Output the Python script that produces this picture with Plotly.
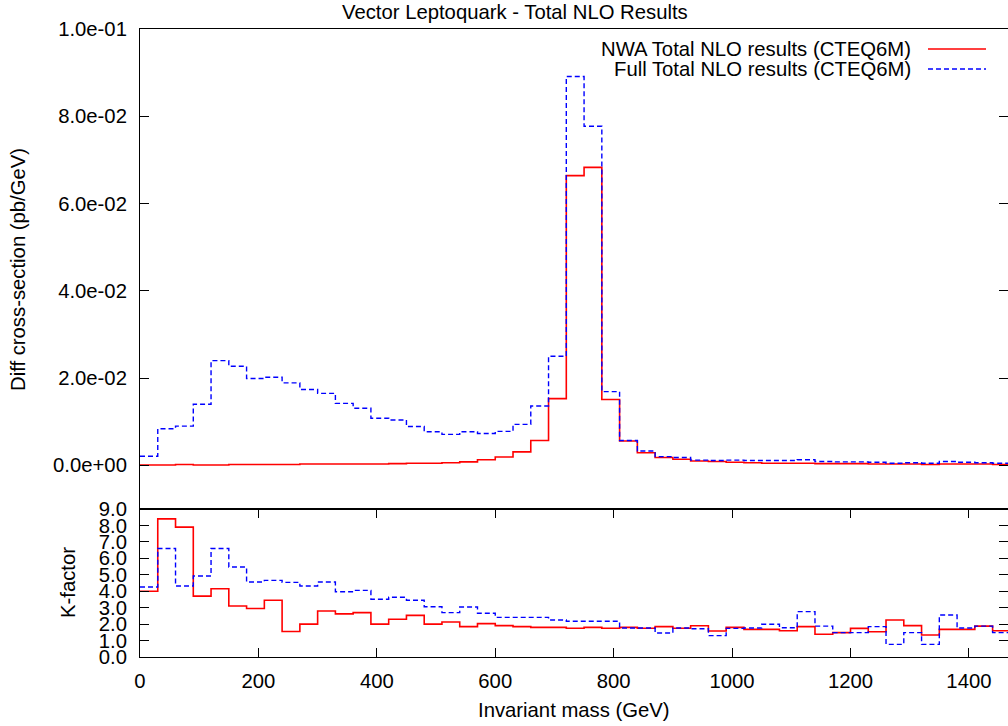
import plotly.graph_objects as go

# ---------------- data ----------------
bin_edges = [0, 30, 60, 90, 120, 150, 180, 210, 240, 270, 300, 330, 360, 390, 420,
             450, 480, 510, 540, 570, 600, 630, 660, 690, 720, 750, 780, 810, 840,
             870, 900, 930, 960, 990, 1020, 1050, 1080, 1110, 1140, 1170, 1200,
             1230, 1260, 1290, 1320, 1350, 1380, 1410, 1440, 1470]

nwa_xsec = [0.0001, 0.0001, 0.0002, 0.0001, 0.0001, 0.0002, 0.0002, 0.0002, 0.0002,
            0.0003, 0.0003, 0.0003, 0.0003, 0.0003, 0.0004, 0.0005, 0.0005, 0.0006,
            0.0008, 0.0013, 0.0019, 0.0031, 0.0057, 0.0153, 0.0664, 0.0683, 0.0151,
            0.0056, 0.0029, 0.0018, 0.0014, 0.0010, 0.0009, 0.0007, 0.0006, 0.0005,
            0.0005, 0.0005, 0.0004, 0.0004, 0.0004, 0.0003, 0.0003, 0.0003, 0.0002,
            0.0003, 0.0003, 0.0003, 0.0002]

full_xsec = [0.0021, 0.0084, 0.0090, 0.0140, 0.0240, 0.0227, 0.0199, 0.0202, 0.0189,
             0.0174, 0.0165, 0.0142, 0.0131, 0.0108, 0.0104, 0.0089, 0.0077, 0.0071,
             0.0077, 0.0073, 0.0078, 0.0094, 0.0136, 0.0250, 0.0891, 0.0777, 0.0169,
             0.0057, 0.0033, 0.0020, 0.0018, 0.0012, 0.0011, 0.0012, 0.0011, 0.0011,
             0.0011, 0.0013, 0.0009, 0.0008, 0.0008, 0.0007, 0.0005, 0.0006, 0.0005,
             0.0009, 0.0007, 0.0006, 0.0005]

nwa_kfac = [4.0, 8.4, 7.9, 3.7, 4.15, 3.1, 2.95, 3.45, 1.55, 2.0, 2.8, 2.62, 2.7,
            2.0, 2.3, 2.53, 2.0, 2.13, 1.85, 2.03, 1.91, 1.85, 1.8, 1.8, 1.75, 1.8,
            1.75, 1.8, 1.75, 1.85, 1.75, 1.9, 1.58, 1.8, 1.68, 1.68, 1.6, 1.85, 1.38,
            1.48, 1.74, 1.54, 2.25, 1.91, 1.34, 1.68, 1.68, 1.88, 1.6]

full_kfac = [4.26, 6.6, 4.32, 4.93, 6.6, 5.47, 4.56, 4.66, 4.54, 4.32, 4.56, 3.97,
             4.05, 3.51, 3.63, 3.45, 3.06, 2.7, 3.04, 2.66, 2.41, 2.41, 2.41, 2.25,
             2.17, 2.17, 2.17, 1.76, 1.76, 1.46, 1.76, 1.72, 1.3, 1.74, 1.76, 1.99,
             1.78, 2.76, 1.88, 1.48, 1.48, 1.85, 0.77, 1.48, 0.77, 2.55, 1.76, 1.88,
             1.48]

xsec_tickvals = [0.0, 0.02, 0.04, 0.06, 0.08, 0.10]
xsec_ticktext = ["0.0e+00", "2.0e-02", "4.0e-02", "6.0e-02", "8.0e-02", "1.0e-01"]
kfac_tickvals = [0, 1, 2, 3, 4, 5, 6, 7, 8, 9]
kfac_ticktext = ["0.0", "1.0", "2.0", "3.0", "4.0", "5.0", "6.0", "7.0", "8.0", "9.0"]
mass_tickvals = [0, 200, 400, 600, 800, 1000, 1200, 1400]

series_names = ["NWA Total NLO results (CTEQ6M)", "Full Total NLO results (CTEQ6M)"]

# ---------------- figure ----------------
FONT = "Liberation Sans, Arial, Helvetica, sans-serif"
FS = 20.3
RED = "#ff0000"
BLUE = "#0000ff"
BLUE_DASH = "5px,3px"


def steps(vals):
    return list(vals) + [vals[-1]]


fig = go.Figure()
fig.add_trace(go.Scatter(x=bin_edges, y=steps(nwa_xsec), mode="lines",
                         line=dict(color=RED, width=1.6, shape="hv"),
                         xaxis="x2", yaxis="y2", name=series_names[0]))
fig.add_trace(go.Scatter(x=bin_edges, y=steps(full_xsec), mode="lines",
                         line=dict(color=BLUE, width=1.4, shape="hv", dash=BLUE_DASH),
                         xaxis="x2", yaxis="y2", name=series_names[1]))
fig.add_trace(go.Scatter(x=bin_edges, y=steps(nwa_kfac), mode="lines",
                         line=dict(color=RED, width=1.6, shape="hv"),
                         xaxis="x", yaxis="y", name=series_names[0]))
fig.add_trace(go.Scatter(x=bin_edges, y=steps(full_kfac), mode="lines",
                         line=dict(color=BLUE, width=1.4, shape="hv", dash=BLUE_DASH),
                         xaxis="x", yaxis="y", name=series_names[1]))

W, H = 1008, 726
L, R, T, B = 140, 0, 29, 69
plot_h = H - T - B          # 628
split = 148 / plot_h        # bottom panel height fraction

axis_common = dict(showline=True, linecolor="black", linewidth=1, showgrid=False,
                   zeroline=False, tickcolor="black", ticklen=9, tickwidth=1,
                   tickfont=dict(family=FONT, size=FS, color="black"))

fig.update_layout(
    width=W, height=H,
    margin=dict(l=L, r=R, t=T, b=B),
    paper_bgcolor="white", plot_bgcolor="white",
    showlegend=False,
    font=dict(family=FONT, size=FS, color="black"),
    xaxis=dict(domain=[0, 1], anchor="y", range=[0, 1466], tickvals=mass_tickvals,
               ticks="inside", mirror="ticks", ticklabelstandoff=6, **axis_common),
    yaxis=dict(domain=[0, split], anchor="x", range=[0, 9], tickvals=kfac_tickvals,
               ticktext=kfac_ticktext, ticks="inside", mirror="ticks",
               ticklabelstandoff=8, **axis_common),
    xaxis2=dict(domain=[0, 1], anchor="y2", range=[0, 1466], matches="x",
                showticklabels=False, ticks="", mirror=True, **axis_common),
    yaxis2=dict(domain=[split, 1], anchor="x2", range=[-0.01, 0.1],
                tickvals=xsec_tickvals, ticktext=xsec_ticktext, ticks="inside",
                mirror="ticks", ticklabelstandoff=8, **axis_common),
)


def py(ypix):
    """pixel y -> paper y"""
    return 1 - (ypix - T) / plot_h


def px(xpix):
    return (xpix - L) / (W - L - R)


annotations = [
    dict(text="Vector Leptoquark - Total NLO Results", x=px(515), y=py(12),
         xref="paper", yref="paper", xanchor="center", yanchor="middle",
         showarrow=False, font=dict(family=FONT, size=FS)),
    dict(text="Diff cross-section (pb/GeV)", x=px(18), y=py(270), textangle=-90,
         xref="paper", yref="paper", xanchor="center", yanchor="middle",
         showarrow=False, font=dict(family=FONT, size=FS)),
    dict(text="K-factor", x=px(68), y=py(583), textangle=-90,
         xref="paper", yref="paper", xanchor="center", yanchor="middle",
         showarrow=False, font=dict(family=FONT, size=FS)),
    dict(text="Invariant mass (GeV)", x=px(574), y=py(710),
         xref="paper", yref="paper", xanchor="center", yanchor="middle",
         showarrow=False, font=dict(family=FONT, size=FS)),
]
legend_rows = [(series_names[0], RED, "solid", 1.6, 49),
               (series_names[1], BLUE, BLUE_DASH, 1.4, 69)]
shapes = []
for name, color, dash, width, ypix in legend_rows:
    annotations.append(dict(text=name, x=px(913), y=py(ypix), xref="paper", yref="paper",
                            xanchor="right", yanchor="middle", showarrow=False,
                            font=dict(family=FONT, size=FS)))
    shapes.append(dict(type="line", xref="paper", yref="paper",
                       x0=px(928), x1=px(986), y0=py(ypix), y1=py(ypix),
                       line=dict(color=color, width=width, dash=dash)))

fig.update_layout(annotations=annotations, shapes=shapes)

fig.write_html("out.html",
               config={"displayModeBar": False},
               post_script="document.body.style.margin='0';"
                           "document.body.style.overflow='hidden';")
